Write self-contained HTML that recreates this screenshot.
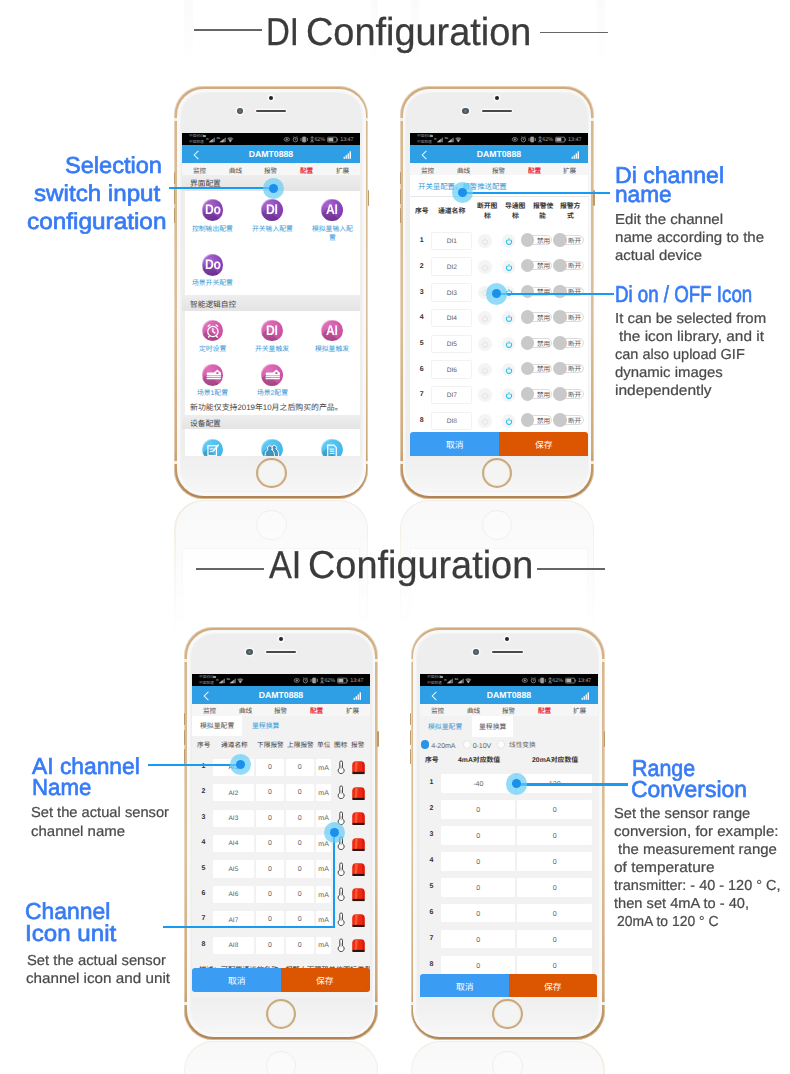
<!DOCTYPE html>
<html lang="en"><head><meta charset="utf-8"><title>DI / AI Configuration</title>
<style>
*{margin:0;padding:0;box-sizing:border-box}
html,body{width:790px;height:1074px;overflow:hidden;background:#fff}
body{font-family:"Liberation Sans",sans-serif;position:relative;text-rendering:geometricPrecision}
#page{position:absolute;left:0;top:0;width:790px;height:1074px;overflow:hidden;background:#fff}
.abs{position:absolute}
.cj{position:absolute;fill:currentColor;stroke:none;overflow:visible;display:block;font-family:"Liberation Sans","Noto Sans CJK SC",sans-serif}
.cj text{font-size:100px}
.cb{font-weight:bold}
.t{position:absolute;white-space:nowrap;transform-origin:0 0;line-height:1}
.h1{color:#3b3b3b;font-size:39px;-webkit-text-stroke:.28px #3b3b3b}
.hl{position:absolute;height:1.7px;background:#666}
.bt{color:#377bf6;-webkit-text-stroke:.68px #377bf6}
.gt{color:#4a4a4a;-webkit-text-stroke:.22px #4a4a4a}
/* phone */
.phone{position:absolute;width:194px;height:412.6px;border-radius:29px;
 background:linear-gradient(to bottom,#cfab7d 0,#d8b98f 12%,#dcbf98 55%,#cfa97b 88%,#b88b58 97%,#b08350 100%);box-shadow:inset 0 0 0 .9px rgba(255,255,255,.42)}
.phone .rim{position:absolute;left:2.7px;top:2.3px;right:2.9px;bottom:2.8px;border-radius:26.5px;background:#f9f9f9}
.phone .face{position:absolute;left:6.4px;top:6.6px;right:6.4px;bottom:8px;border-radius:22.5px;background:linear-gradient(to bottom,#eee 0,#eee 90%,#f3f3f3 97%,#f7f7f7 100%);box-shadow:0 0 1.5px 1px #f2f2f2}
.phone .cam{position:absolute;left:62.3px;top:21.8px;width:6.4px;height:6.4px;border-radius:50%;background:radial-gradient(circle,#70838a 0,#4b585f 45%,#48545b 100%);box-shadow:0 0 0 1.6px #f9f9f9}
.phone .spk{position:absolute;left:81.6px;top:23.4px;width:30.4px;height:2.8px;border-radius:2px;background:#484848;box-shadow:0 0 0 1.4px #f8f8f8}
.phone .dot{position:absolute;left:94.7px;top:9.3px;width:4px;height:4px;border-radius:50%;background:#252525;box-shadow:0 0 0 1.7px #f9f9f9}
.phone .home{position:absolute;left:81.8px;top:371.5px;width:30.4px;height:30.4px;border-radius:50%;border:2px solid #cba97e;background:#f4f4f4;box-shadow:inset 0 0 1px .5px #eadfcd}
.phone .ant{position:absolute;width:3px;height:2.6px;background:#f3efe9}
.phone .btn{position:absolute;width:1.3px;background:#bd9a6e;border-radius:1px}
.screen{position:absolute;top:46.7px;width:178px;height:323px;overflow:hidden;background:#eee;font-size:7px;color:#555}
.screen *{position:absolute}
.sb{left:0;top:0;width:178px;height:11.9px;background:#000}
.hd{left:0;top:11.9px;width:178px;height:18.5px;background:#2e9fe5}
.hd b{left:0;width:178px;top:5.3px;text-align:center;color:#fff;font-size:8.7px;line-height:9px;letter-spacing:0}
.tabs{left:0;top:30.4px;width:178px;height:11.8px;background:#f6f6f6}
.sec{left:0;width:178px;background:linear-gradient(to bottom,#eee,#e4e4e4)}
.card{left:2.7px;width:175.3px;background:#fff}
.ic{border-radius:50%;width:21.8px;height:21.8px;overflow:hidden;box-shadow:inset .8px .8px .6px rgba(255,255,255,.38)}
.ic b{left:0;top:0;width:21.8px;height:21.8px;text-align:center;color:#fff;font-size:14px;line-height:21.8px;letter-spacing:-.2px;transform:scaleX(.87)}
.pur{background:radial-gradient(circle at 32% 28%,#a766cf 0%,#8c43b9 55%,#74309f 100%)}
.pnk{background:radial-gradient(circle at 32% 28%,#e070bb 0%,#d258a9 55%,#bb4593 100%)}
.blu{background:radial-gradient(circle at 32% 28%,#62cbf6 0%,#47bbee 60%,#37abe2 100%)}
.shd{left:6px;top:9px;width:30px;height:14px;background:rgba(0,0,0,.16);transform:rotate(45deg);transform-origin:0 0}
.box{background:#fff;border-radius:1.5px;text-align:center;color:#666}
.bx2{border:.7px solid #f2f2f2}
.num{font-weight:bold;color:#333;font-size:7px;line-height:8px;width:12px;text-align:center}
.btnb{background:#3a9cf2}
.btno{background:#dc5500}
.knob{width:13.6px;height:13.6px;border-radius:50%;background:#c9c9c9}
.pill{height:9.6px;border:.7px solid #dcdcdc;border-radius:5px;background:#fff}
.pw{width:13.6px;height:13.6px;border-radius:50%;background:#f4f4f4}
.refl{position:absolute;overflow:hidden}
.halo{position:absolute;width:21.2px;height:21.2px;border-radius:50%;background:rgba(100,205,246,.7)}
.halo i{position:absolute;left:6.1px;top:6.1px;width:9px;height:9px;border-radius:50%;background:#1a90ee}
.ln{position:absolute;background:#189bf2}
</style></head>
<body>
<div id="page">
<div class="abs" style="left:184.2px;top:0;width:194px;height:66px;background:linear-gradient(to bottom,rgba(247,247,247,.55),rgba(250,250,250,0))"></div><div class="abs" style="left:192.7px;top:0;width:178px;height:66px;background:#fff"></div><div class="abs" style="left:410.7px;top:0;width:194px;height:66px;background:linear-gradient(to bottom,rgba(247,247,247,.55),rgba(250,250,250,0))"></div><div class="abs" style="left:419.2px;top:0;width:178px;height:66px;background:#fff"></div>
<div class="refl" style="left:173.4px;top:499.5px;width:196px;height:140px;-webkit-mask-image:linear-gradient(to bottom,rgba(0,0,0,.9),rgba(0,0,0,.6) 35%,rgba(0,0,0,.25) 65%,rgba(0,0,0,.06) 88%,transparent);mask-image:linear-gradient(to bottom,rgba(0,0,0,.9),rgba(0,0,0,.6) 35%,rgba(0,0,0,.25) 65%,rgba(0,0,0,.06) 88%,transparent)"><div class="abs" style="left:1px;top:0;width:194px;height:412px;border-radius:29px;background:#f1e9de"></div><div class="abs" style="left:2.200px;top:1.200px;width:191.600px;height:412px;border-radius:28px;background:#f8f8f8"></div><div class="abs" style="left:82.800px;top:10.500px;width:30.400px;height:30.400px;border-radius:50%;border:1.500px solid #efe9e1;background:#fafafa"></div><div class="abs" style="left:8.6px;top:48.500px;width:178px;height:200px;border:1px solid #f0f0f0;background:#fefefe"></div></div>
<div class="refl" style="left:399.1px;top:499.5px;width:196px;height:140px;-webkit-mask-image:linear-gradient(to bottom,rgba(0,0,0,.9),rgba(0,0,0,.6) 35%,rgba(0,0,0,.25) 65%,rgba(0,0,0,.06) 88%,transparent);mask-image:linear-gradient(to bottom,rgba(0,0,0,.9),rgba(0,0,0,.6) 35%,rgba(0,0,0,.25) 65%,rgba(0,0,0,.06) 88%,transparent)"><div class="abs" style="left:1px;top:0;width:194px;height:412px;border-radius:29px;background:#f1e9de"></div><div class="abs" style="left:2.200px;top:1.200px;width:191.600px;height:412px;border-radius:28px;background:#f8f8f8"></div><div class="abs" style="left:82.800px;top:10.500px;width:30.400px;height:30.400px;border-radius:50%;border:1.500px solid #efe9e1;background:#fafafa"></div><div class="abs" style="left:10.8px;top:48.500px;width:178px;height:200px;border:1px solid #f0f0f0;background:#fefefe"></div></div>
<div class="refl" style="left:183.2px;top:1040.5px;width:196px;height:140px;-webkit-mask-image:linear-gradient(to bottom,rgba(0,0,0,.9),rgba(0,0,0,.6) 35%,rgba(0,0,0,.25) 65%,rgba(0,0,0,.06) 88%,transparent);mask-image:linear-gradient(to bottom,rgba(0,0,0,.9),rgba(0,0,0,.6) 35%,rgba(0,0,0,.25) 65%,rgba(0,0,0,.06) 88%,transparent)"><div class="abs" style="left:1px;top:0;width:194px;height:412px;border-radius:29px;background:#f1e9de"></div><div class="abs" style="left:2.200px;top:1.200px;width:191.600px;height:412px;border-radius:28px;background:#f8f8f8"></div><div class="abs" style="left:82.800px;top:10.500px;width:30.400px;height:30.400px;border-radius:50%;border:1.500px solid #efe9e1;background:#fafafa"></div><div class="abs" style="left:8.8px;top:48.500px;width:178px;height:200px;border:1px solid #f0f0f0;background:#fefefe"></div></div>
<div class="refl" style="left:409.7px;top:1040.5px;width:196px;height:140px;-webkit-mask-image:linear-gradient(to bottom,rgba(0,0,0,.9),rgba(0,0,0,.6) 35%,rgba(0,0,0,.25) 65%,rgba(0,0,0,.06) 88%,transparent);mask-image:linear-gradient(to bottom,rgba(0,0,0,.9),rgba(0,0,0,.6) 35%,rgba(0,0,0,.25) 65%,rgba(0,0,0,.06) 88%,transparent)"><div class="abs" style="left:1px;top:0;width:194px;height:412px;border-radius:29px;background:#f1e9de"></div><div class="abs" style="left:2.200px;top:1.200px;width:191.600px;height:412px;border-radius:28px;background:#f8f8f8"></div><div class="abs" style="left:82.800px;top:10.500px;width:30.400px;height:30.400px;border-radius:50%;border:1.500px solid #efe9e1;background:#fafafa"></div><div class="abs" style="left:10.2px;top:48.500px;width:178px;height:200px;border:1px solid #f0f0f0;background:#fefefe"></div></div>
<div class="hl" style="left:194.1px;top:29.3px;width:67.8px"></div>
<div class="hl" style="left:540px;top:31.6px;width:68px"></div>
<div class="hl" style="left:196.1px;top:568.2px;width:67.6px"></div>
<div class="hl" style="left:537.1px;top:568.2px;width:67.7px"></div>
<div class="t h1" style="left:266.47px;top:13px;font-size:39px;transform:scaleX(0.8459)">DI</div>
<div class="t h1" style="left:305.76px;top:13px;font-size:39px;transform:scaleX(0.9713)">Configuration</div>
<div class="t h1" style="left:269.31px;top:546px;font-size:39px;transform:scaleX(0.8781)">AI</div>
<div class="t h1" style="left:307.76px;top:546px;font-size:39px;transform:scaleX(0.9708)">Configuration</div>
<div class="t bt" style="left:64.71px;top:154px;font-size:23px;transform:scaleX(1.0245)">Selection</div>
<div class="t bt" style="left:34.21px;top:182px;font-size:23px;transform:scaleX(1.0509)">switch input</div>
<div class="t bt" style="left:27.25px;top:210px;font-size:23px;transform:scaleX(1.0589)">configuration</div>
<div class="t bt" style="left:614.79px;top:164px;font-size:23px;transform:scaleX(1.0036)">Di channel</div>
<div class="t bt" style="left:615.17px;top:183px;font-size:23px;transform:scaleX(0.9862)">name</div>
<div class="t bt" style="left:614.85px;top:283px;font-size:23px;transform:scaleX(0.8131)">Di on / OFF Icon</div>
<div class="t bt" style="left:31.74px;top:755px;font-size:23px;transform:scaleX(0.9918)">AI channel</div>
<div class="t bt" style="left:31.56px;top:776px;font-size:23px;transform:scaleX(0.9656)">Name</div>
<div class="t bt" style="left:25.12px;top:900px;font-size:23px;transform:scaleX(0.9959)">Channel</div>
<div class="t bt" style="left:25.35px;top:922px;font-size:23px;transform:scaleX(1.0493)">Icon unit</div>
<div class="t bt" style="left:631.72px;top:757px;font-size:23px;transform:scaleX(0.9317)">Range</div>
<div class="t bt" style="left:631.32px;top:778px;font-size:23px;transform:scaleX(0.9970)">Conversion</div>
<div class="t gt" style="left:615.08px;top:213px;font-size:14.5px;transform:scaleX(1.0395)">Edit the channel</div>
<div class="t gt" style="left:615.32px;top:231px;font-size:14.5px;transform:scaleX(1.0393)">name according to the</div>
<div class="t gt" style="left:614.89px;top:249px;font-size:14.5px;transform:scaleX(1.0273)">actual device</div>
<div class="t gt" style="left:614.94px;top:312px;font-size:14.5px;transform:scaleX(1.0302)">It can be selected from</div>
<div class="t gt" style="left:619.19px;top:330px;font-size:14.5px;transform:scaleX(1.0596)">the icon library, and it</div>
<div class="t gt" style="left:615.00px;top:348px;font-size:14.5px;transform:scaleX(0.9998)">can also upload GIF</div>
<div class="t gt" style="left:614.99px;top:366px;font-size:14.5px;transform:scaleX(1.0282)">dynamic images</div>
<div class="t gt" style="left:615.28px;top:384px;font-size:14.5px;transform:scaleX(1.0699)">independently</div>
<div class="t gt" style="left:31.15px;top:806px;font-size:14.5px;transform:scaleX(1.0127)">Set the actual sensor</div>
<div class="t gt" style="left:30.58px;top:825px;font-size:14.5px;transform:scaleX(1.0326)">channel name</div>
<div class="t gt" style="left:26.95px;top:954px;font-size:14.5px;transform:scaleX(1.0194)">Set the actual sensor</div>
<div class="t gt" style="left:26.37px;top:972px;font-size:14.5px;transform:scaleX(1.0508)">channel icon and unit</div>
<div class="t gt" style="left:614.15px;top:807px;font-size:14.5px;transform:scaleX(1.0123)">Set the sensor range</div>
<div class="t gt" style="left:613.98px;top:825px;font-size:14.5px;transform:scaleX(1.0412)">conversion, for example:</div>
<div class="t gt" style="left:617.59px;top:843px;font-size:14.5px;transform:scaleX(1.0318)">the measurement range</div>
<div class="t gt" style="left:613.97px;top:861px;font-size:14.5px;transform:scaleX(1.0656)">of temperature</div>
<div class="t gt" style="left:614.10px;top:879px;font-size:14.5px;transform:scaleX(0.9971)">transmitter: - 40 - 120 ° C,</div>
<div class="t gt" style="left:614.10px;top:897px;font-size:14.5px;transform:scaleX(1.0096)">then set 4mA to - 40,</div>
<div class="t gt" style="left:617.12px;top:915px;font-size:14.5px;transform:scaleX(0.9599)">20mA to 120 ° C</div>
<div class="phone" style="left:174.4px;top:86.3px"><div class="btn" style="left:-.5px;top:86px;height:12px"></div><div class="btn" style="left:-.5px;top:103px;height:15px"></div><div class="btn" style="left:-.5px;top:122px;height:15px"></div><div class="btn" style="right:-.5px;top:104px;height:16px"></div><div class="rim"></div><div class="face"></div><div class="ant" style="left:0;top:32px"></div><div class="ant" style="right:0;top:32px"></div><div class="ant" style="left:0;top:375px"></div><div class="ant" style="right:0;top:375px"></div><div class="dot"></div><div class="cam"></div><div class="spk"></div><div class="screen" style="left:7.6px"><div class="sb" style="left:0.00px;top:0.00px;width:178.00px;height:11.90px;"></div><svg class="cj" role="img" aria-label="中国移动" style="left:7.30px;top:1.35px;width:14.80px;height:3.70px;color:#8e8e8e;" viewBox="0 -88 400 100"><text x="0" y="0">中国移动</text></svg><svg class="cj" role="img" aria-label="中国联通" style="left:7.30px;top:6.75px;width:14.80px;height:3.70px;color:#8e8e8e;" viewBox="0 -88 400 100"><text x="0" y="0">中国联通</text></svg><div style="left:20.60px;top:1.60px;width:3.00px;height:2.60px;border:.5px solid #999;border-radius:.5px"></div><svg style="left:24px;top:2px;width:30px;height:8px" viewBox="0 0 30 8"><text x="0.3" y="4.6" font-size="3" fill="#aaa" font-family="Liberation Sans" font-weight="bold">H</text><path d="M2.8 7.2 L9 7.2 L9 2.2 Z" fill="#6a6a6a"/><path d="M2.8 7.2 L6.6 7.2 L6.6 4.1 Z" fill="#b4b4b4"/><text x="10.4" y="4.4" font-size="2.8" fill="#aaa" font-family="Liberation Sans" font-weight="bold">4G</text><path d="M13.6 7.2 L19.9 7.2 L19.9 2.2 Z" fill="#6a6a6a"/><path d="M13.6 7.2 L17.6 7.2 L17.6 4 Z" fill="#b4b4b4"/><path d="M21.2 3.6 Q24.3 0.9 27.4 3.6 L24.3 7.3 Z" fill="#6a6a6a"/><path d="M22.9 5.4 Q24.3 4.4 25.7 5.4 L24.3 7.3 Z" fill="#b4b4b4"/></svg><svg style="left:101px;top:2.6px;width:60px;height:7px" viewBox="0 0 60 7" fill="none" stroke="#9a9a9a" stroke-width=".75"><ellipse cx="3.8" cy="3.4" rx="2.6" ry="1.9"/><circle cx="3.8" cy="3.4" r=".7" fill="#9a9a9a"/><circle cx="12.4" cy="3.7" r="2.2"/><path d="M12.4 2.4v1.4h1M10.2 1.2l1-.8M14.6 1.2l-1-.8"/><rect x="19.6" y="1" width="3.2" height="5" rx=".5" fill="#9a9a9a"/><path d="M18 2v3M24.4 2v3"/><path d="M27.2 5.8h3.8M29.1 .8v4.2M27.4 2l1.7-1.2 1.7 1.2M27.8 3.8l1.3 1 1.3-1"/><rect x="44.6" y="1.2" width="9.2" height="4.8" rx=".8"/><rect x="45.3" y="1.9" width="5" height="3.4" fill="#b0b0b0" stroke="none"/><path d="M54.6 2.6v2"/></svg><div style="left:132.4px;top:4.1px;font-size:5.5px;line-height:7px;color:#a6a6a6;letter-spacing:-.1px">62%</div><div style="left:158.2px;top:4.1px;font-size:5.5px;line-height:7px;color:#a6a6a6;letter-spacing:-.1px">13:47</div><div class="hd" style="left:0.00px;top:11.90px;width:178.00px;height:18.50px;"><b>DAMT0888</b></div><svg style="left:11px;top:17.5px;width:7px;height:10px" viewBox="0 0 7 10" fill="none" stroke="#eef7fd" stroke-width="1.05"><path d="M5.4 .8 L1.2 5 L5.4 9.2"/></svg><svg style="left:161px;top:18.4px;width:9px;height:8px" viewBox="0 0 9 8" fill="#fff"><rect x=".6" y="5.8" width="1.3" height="2"/><rect x="2.6" y="4.2" width="1.3" height="3.6"/><rect x="4.6" y="2.4" width="1.3" height="5.4"/><rect x="6.6" y=".4" width="1.4" height="7.4"/></svg><div class="tabs" style="left:0.00px;top:30.40px;width:178.00px;height:11.80px;"></div><svg class="cj" role="img" aria-label="监控" style="left:11.20px;top:34.00px;width:13.20px;height:6.60px;color:#4a4a4a;" viewBox="0 -88 200 100"><text x="0" y="0">监控</text></svg><svg class="cj" role="img" aria-label="曲线" style="left:46.80px;top:34.00px;width:13.20px;height:6.60px;color:#4a4a4a;" viewBox="0 -88 200 100"><text x="0" y="0">曲线</text></svg><svg class="cj" role="img" aria-label="报警" style="left:82.40px;top:34.00px;width:13.20px;height:6.60px;color:#4a4a4a;" viewBox="0 -88 200 100"><text x="0" y="0">报警</text></svg><svg class="cj cb" role="img" aria-label="配置" style="left:118.00px;top:34.00px;width:13.20px;height:6.60px;color:#ec1c24;" viewBox="0 -88 200 100"><text x="0" y="0">配置</text></svg><svg class="cj" role="img" aria-label="扩展" style="left:153.60px;top:34.00px;width:13.20px;height:6.60px;color:#4a4a4a;" viewBox="0 -88 200 100"><text x="0" y="0">扩展</text></svg><div class="sec" style="left:0.00px;top:42.20px;width:178.00px;height:16.00px;"></div><svg class="cj" role="img" aria-label="界面配置" style="left:7.80px;top:46.35px;width:30.80px;height:7.70px;color:#454545;" viewBox="0 -88 400 100"><text x="0" y="0">界面配置</text></svg><div class="card" style="left:2.70px;top:58.20px;width:175.30px;height:104.10px;"></div><div class="ic pur" style="left:19.70px;top:66.20px"><div class="shd"></div><b>Do</b></div><div class="ic pur" style="left:79.30px;top:66.20px"><div class="shd"></div><b>DI</b></div><div class="ic pur" style="left:139.10px;top:66.20px"><div class="shd"></div><b>AI</b></div><svg class="cj" role="img" aria-label="控制输出配置" style="left:10.20px;top:92.00px;width:40.80px;height:6.80px;color:#3d9bd8;" viewBox="0 -88 600 100"><text x="0" y="0">控制输出配置</text></svg><svg class="cj" role="img" aria-label="开关输入配置" style="left:69.80px;top:92.00px;width:40.80px;height:6.80px;color:#3d9bd8;" viewBox="0 -88 600 100"><text x="0" y="0">开关输入配置</text></svg><svg class="cj" role="img" aria-label="模拟量输入配" style="left:129.60px;top:92.00px;width:40.80px;height:6.80px;color:#3d9bd8;" viewBox="0 -88 600 100"><text x="0" y="0">模拟量输入配</text></svg><svg class="cj" role="img" aria-label="置" style="left:146.60px;top:101.10px;width:6.80px;height:6.80px;color:#3d9bd8;" viewBox="0 -88 100 100"><text x="0" y="0">置</text></svg><div class="ic pur" style="left:19.70px;top:121.10px"><div class="shd"></div><b>Do</b></div><svg class="cj" role="img" aria-label="场景开关配置" style="left:10.20px;top:146.20px;width:40.80px;height:6.80px;color:#3d9bd8;" viewBox="0 -88 600 100"><text x="0" y="0">场景开关配置</text></svg><div class="sec" style="left:0.00px;top:162.30px;width:178.00px;height:15.40px;"></div><svg class="cj" role="img" aria-label="智能逻辑自控" style="left:7.80px;top:166.55px;width:46.20px;height:7.70px;color:#454545;" viewBox="0 -88 600 100"><text x="0" y="0">智能逻辑自控</text></svg><div class="card" style="left:2.70px;top:177.70px;width:175.30px;height:104.50px;"></div><div class="ic pnk" style="left:19.70px;top:186.60px"><div class="shd"></div><svg style="left:0;top:0;width:21.8px;height:21.8px" viewBox="0 0 22 22" fill="none" stroke="#fff" stroke-width="1.3" stroke-linecap="round"><circle cx="11" cy="11.6" r="5.2"/><path d="M11 8.6v3.2l2 1.2M6.2 6.4l1.6-1.5M15.8 6.4l-1.6-1.5M7.6 16l-1 1.4M14.4 16l1 1.4"/></svg></div><div class="ic pnk" style="left:79.30px;top:186.60px"><div class="shd"></div><b>DI</b></div><div class="ic pnk" style="left:139.10px;top:186.60px"><div class="shd"></div><b>AI</b></div><svg class="cj" role="img" aria-label="定时设置" style="left:17.00px;top:212.00px;width:27.20px;height:6.80px;color:#3d9bd8;" viewBox="0 -88 400 100"><text x="0" y="0">定时设置</text></svg><svg class="cj" role="img" aria-label="开关量触发" style="left:73.20px;top:212.00px;width:34.00px;height:6.80px;color:#3d9bd8;" viewBox="0 -88 500 100"><text x="0" y="0">开关量触发</text></svg><svg class="cj" role="img" aria-label="模拟量触发" style="left:133.00px;top:212.00px;width:34.00px;height:6.80px;color:#3d9bd8;" viewBox="0 -88 500 100"><text x="0" y="0">模拟量触发</text></svg><div class="ic pnk" style="left:19.70px;top:230.80px"><div class="shd"></div><svg style="left:0;top:0;width:21.8px;height:21.8px" viewBox="0 0 22 22" fill="#fff" stroke="none"><path d="M4.800 11.500V9.700q0-1.100 1.100-1.100h6.200l3.400-3.100 3.600 3.300v2.700z"/><rect x="14.500" y="8.300" width="2.100" height="1.800" fill="#c9509f"/><rect x="4.600" y="12.200" width="14.500" height="1"/><rect x="4.600" y="13.800" width="14.500" height="1.500" rx=".4"/></svg></div><div class="ic pnk" style="left:79.30px;top:230.80px"><div class="shd"></div><svg style="left:0;top:0;width:21.8px;height:21.8px" viewBox="0 0 22 22" fill="#fff" stroke="none"><path d="M4.800 11.500V9.700q0-1.100 1.100-1.100h6.200l3.400-3.100 3.600 3.300v2.700z"/><rect x="14.500" y="8.300" width="2.100" height="1.800" fill="#c9509f"/><rect x="4.600" y="12.200" width="14.500" height="1"/><rect x="4.600" y="13.800" width="14.500" height="1.500" rx=".4"/></svg></div><svg class="cj" role="img" aria-label="场景1配置" style="left:15.11px;top:255.90px;width:30.97px;height:6.80px;color:#3d9bd8;" viewBox="0 -88 455.5 100"><text x="0" y="0" textLength="455.5">场景1配置</text></svg><svg class="cj" role="img" aria-label="场景2配置" style="left:74.71px;top:255.90px;width:30.97px;height:6.80px;color:#3d9bd8;" viewBox="0 -88 455.5 100"><text x="0" y="0" textLength="455.5">场景2配置</text></svg><svg class="cj" role="img" aria-label="新功能仅支持2019年10月之后购买的产品。" style="left:7.80px;top:269.95px;width:152.71px;height:7.90px;color:#454545;" viewBox="0 -88 1933 100"><text x="0" y="0" textLength="1933">新功能仅支持2019年10月之后购买的产品。</text></svg><div class="sec" style="left:0.00px;top:282.20px;width:178.00px;height:14.30px;"></div><svg class="cj" role="img" aria-label="设备配置" style="left:7.80px;top:285.75px;width:30.80px;height:7.70px;color:#454545;" viewBox="0 -88 400 100"><text x="0" y="0">设备配置</text></svg><div class="card" style="left:2.70px;top:296.50px;width:175.30px;height:27.00px;"></div><div class="ic blu" style="left:19.70px;top:305.60px"><div class="shd"></div><svg style="left:0;top:0;width:21.8px;height:21.8px" viewBox="0 0 22 22" fill="none" stroke="#fff" stroke-width="1.2"><rect x="6" y="6.800" width="8.600" height="9.800"/><path d="M7.800 10h4M7.800 12.800h3.200" stroke-width="1"/><path d="M11.600 11.800l4.800-5.600" stroke-width="1.500" stroke-linecap="round"/></svg></div><div class="ic blu" style="left:79.30px;top:305.60px"><div class="shd"></div><svg style="left:0;top:0;width:21.8px;height:21.8px" viewBox="0 0 22 22" fill="#3f93bd" stroke="#fff" stroke-width=".95" stroke-linejoin="round"><path d="M11.800 10.100a2.200 2.200 0 1 1 3.200 0c1.800.8 2.600 2.500 2.600 5v4h-7.600z"/><path d="M7.100 10.900a2.400 2.400 0 1 1 3.600 0c2 .9 2.900 2.800 2.900 5.500v3h-9.400v-3c0-2.700.9-4.600 2.900-5.500z"/></svg></div><div class="ic blu" style="left:139.10px;top:305.60px"><div class="shd"></div><svg style="left:0;top:0;width:21.8px;height:21.8px" viewBox="0 0 22 22" fill="none" stroke="#fff" stroke-width="1.200"><path d="M6.800 6.200h6.200l2.400 2.400v9.400h-8.600z"/><path d="M8.600 10.200h4.800M8.600 12.400h4.800M8.600 14.600h4.800" stroke-width="1"/></svg></div></div><div class="home"></div></div>
<div class="phone" style="left:400.1px;top:86.3px"><div class="btn" style="left:-.5px;top:86px;height:12px"></div><div class="btn" style="left:-.5px;top:103px;height:15px"></div><div class="btn" style="left:-.5px;top:122px;height:15px"></div><div class="btn" style="right:-.5px;top:104px;height:16px"></div><div class="rim"></div><div class="face"></div><div class="ant" style="left:0;top:32px"></div><div class="ant" style="right:0;top:32px"></div><div class="ant" style="left:0;top:375px"></div><div class="ant" style="right:0;top:375px"></div><div class="dot"></div><div class="cam"></div><div class="spk"></div><div class="screen" style="left:9.8px"><div class="sb" style="left:0.00px;top:0.00px;width:178.00px;height:11.90px;"></div><svg class="cj" role="img" aria-label="中国移动" style="left:7.30px;top:1.35px;width:14.80px;height:3.70px;color:#8e8e8e;" viewBox="0 -88 400 100"><text x="0" y="0">中国移动</text></svg><svg class="cj" role="img" aria-label="中国联通" style="left:7.30px;top:6.75px;width:14.80px;height:3.70px;color:#8e8e8e;" viewBox="0 -88 400 100"><text x="0" y="0">中国联通</text></svg><div style="left:20.60px;top:1.60px;width:3.00px;height:2.60px;border:.5px solid #999;border-radius:.5px"></div><svg style="left:24px;top:2px;width:30px;height:8px" viewBox="0 0 30 8"><text x="0.3" y="4.6" font-size="3" fill="#aaa" font-family="Liberation Sans" font-weight="bold">H</text><path d="M2.8 7.2 L9 7.2 L9 2.2 Z" fill="#6a6a6a"/><path d="M2.8 7.2 L6.6 7.2 L6.6 4.1 Z" fill="#b4b4b4"/><text x="10.4" y="4.4" font-size="2.8" fill="#aaa" font-family="Liberation Sans" font-weight="bold">4G</text><path d="M13.6 7.2 L19.9 7.2 L19.9 2.2 Z" fill="#6a6a6a"/><path d="M13.6 7.2 L17.6 7.2 L17.6 4 Z" fill="#b4b4b4"/><path d="M21.2 3.6 Q24.3 0.9 27.4 3.6 L24.3 7.3 Z" fill="#6a6a6a"/><path d="M22.9 5.4 Q24.3 4.4 25.7 5.4 L24.3 7.3 Z" fill="#b4b4b4"/></svg><svg style="left:101px;top:2.6px;width:60px;height:7px" viewBox="0 0 60 7" fill="none" stroke="#9a9a9a" stroke-width=".75"><ellipse cx="3.8" cy="3.4" rx="2.6" ry="1.9"/><circle cx="3.8" cy="3.4" r=".7" fill="#9a9a9a"/><circle cx="12.4" cy="3.7" r="2.2"/><path d="M12.4 2.4v1.4h1M10.2 1.2l1-.8M14.6 1.2l-1-.8"/><rect x="19.6" y="1" width="3.2" height="5" rx=".5" fill="#9a9a9a"/><path d="M18 2v3M24.4 2v3"/><path d="M27.2 5.8h3.8M29.1 .8v4.2M27.4 2l1.7-1.2 1.7 1.2M27.8 3.8l1.3 1 1.3-1"/><rect x="44.6" y="1.2" width="9.2" height="4.8" rx=".8"/><rect x="45.3" y="1.9" width="5" height="3.4" fill="#b0b0b0" stroke="none"/><path d="M54.6 2.6v2"/></svg><div style="left:132.4px;top:4.1px;font-size:5.5px;line-height:7px;color:#a6a6a6;letter-spacing:-.1px">62%</div><div style="left:158.2px;top:4.1px;font-size:5.5px;line-height:7px;color:#a6a6a6;letter-spacing:-.1px">13:47</div><div class="hd" style="left:0.00px;top:11.90px;width:178.00px;height:18.50px;"><b>DAMT0888</b></div><svg style="left:11px;top:17.5px;width:7px;height:10px" viewBox="0 0 7 10" fill="none" stroke="#eef7fd" stroke-width="1.05"><path d="M5.4 .8 L1.2 5 L5.4 9.2"/></svg><svg style="left:161px;top:18.4px;width:9px;height:8px" viewBox="0 0 9 8" fill="#fff"><rect x=".6" y="5.8" width="1.3" height="2"/><rect x="2.6" y="4.2" width="1.3" height="3.6"/><rect x="4.6" y="2.4" width="1.3" height="5.4"/><rect x="6.6" y=".4" width="1.4" height="7.4"/></svg><div class="tabs" style="left:0.00px;top:30.40px;width:178.00px;height:11.80px;"></div><svg class="cj" role="img" aria-label="监控" style="left:11.20px;top:34.00px;width:13.20px;height:6.60px;color:#4a4a4a;" viewBox="0 -88 200 100"><text x="0" y="0">监控</text></svg><svg class="cj" role="img" aria-label="曲线" style="left:46.80px;top:34.00px;width:13.20px;height:6.60px;color:#4a4a4a;" viewBox="0 -88 200 100"><text x="0" y="0">曲线</text></svg><svg class="cj" role="img" aria-label="报警" style="left:82.40px;top:34.00px;width:13.20px;height:6.60px;color:#4a4a4a;" viewBox="0 -88 200 100"><text x="0" y="0">报警</text></svg><svg class="cj cb" role="img" aria-label="配置" style="left:118.00px;top:34.00px;width:13.20px;height:6.60px;color:#ec1c24;" viewBox="0 -88 200 100"><text x="0" y="0">配置</text></svg><svg class="cj" role="img" aria-label="扩展" style="left:153.60px;top:34.00px;width:13.20px;height:6.60px;color:#4a4a4a;" viewBox="0 -88 200 100"><text x="0" y="0">扩展</text></svg><div style="left:0.00px;top:42.20px;width:178.00px;height:281.00px;background:#fff"></div><svg class="cj" role="img" aria-label="开关量配置、报警推送配置" style="left:8.30px;top:48.70px;width:88.80px;height:7.40px;color:#2e9fe0;" viewBox="0 -88 1200 100"><text x="0" y="0">开关量配置、报警推送配置</text></svg><div style="left:0.00px;top:62.80px;width:178.00px;height:0.80px;background:#e6e6e6"></div><svg class="cj cb" role="img" aria-label="序号" style="left:4.70px;top:73.70px;width:13.60px;height:6.80px;color:#333;" viewBox="0 -88 200 100"><text x="0" y="0">序号</text></svg><svg class="cj cb" role="img" aria-label="通道名称" style="left:28.40px;top:73.70px;width:27.20px;height:6.80px;color:#333;" viewBox="0 -88 400 100"><text x="0" y="0">通道名称</text></svg><svg class="cj cb" role="img" aria-label="断开图" style="left:67.40px;top:68.80px;width:20.40px;height:6.80px;color:#333;" viewBox="0 -88 300 100"><text x="0" y="0">断开图</text></svg><svg class="cj cb" role="img" aria-label="标" style="left:74.20px;top:78.60px;width:6.80px;height:6.80px;color:#333;" viewBox="0 -88 100 100"><text x="0" y="0">标</text></svg><svg class="cj cb" role="img" aria-label="导通图" style="left:95.00px;top:68.80px;width:20.40px;height:6.80px;color:#333;" viewBox="0 -88 300 100"><text x="0" y="0">导通图</text></svg><svg class="cj cb" role="img" aria-label="标" style="left:101.80px;top:78.60px;width:6.80px;height:6.80px;color:#333;" viewBox="0 -88 100 100"><text x="0" y="0">标</text></svg><svg class="cj cb" role="img" aria-label="报警使" style="left:122.70px;top:68.80px;width:20.40px;height:6.80px;color:#333;" viewBox="0 -88 300 100"><text x="0" y="0">报警使</text></svg><svg class="cj cb" role="img" aria-label="能" style="left:129.50px;top:78.60px;width:6.80px;height:6.80px;color:#333;" viewBox="0 -88 100 100"><text x="0" y="0">能</text></svg><svg class="cj cb" role="img" aria-label="报警方" style="left:150.40px;top:68.80px;width:20.40px;height:6.80px;color:#333;" viewBox="0 -88 300 100"><text x="0" y="0">报警方</text></svg><svg class="cj cb" role="img" aria-label="式" style="left:157.20px;top:78.60px;width:6.80px;height:6.80px;color:#333;" viewBox="0 -88 100 100"><text x="0" y="0">式</text></svg><div class="num" style="left:5.9px;top:104.30px">1</div><div class="box bx2" style="left:21.60px;top:98.80px;width:40.80px;height:18.50px;"></div><div style="left:22.00px;top:105.14px;width:40.00px;height:7.92px;line-height:7.92px;font-size:6.60px;text-align:center;color:#5a5a5a;">DI1</div><div class="pw" style="left:68.50px;top:101.30px;width:13.60px;height:13.60px;"></div><svg style="left:71.30px;top:104.10px;width:8px;height:8px" viewBox="0 0 8 8" fill="none" stroke="#dedede" stroke-width=".9" stroke-linecap="butt"><path d="M2.400 2.700A2.600 2.600 0 1 0 5.600 2.700M4 1.200v2.600"/></svg><div class="pw" style="left:92.00px;top:101.30px;width:13.60px;height:13.60px;"></div><svg style="left:94.80px;top:104.10px;width:8px;height:8px" viewBox="0 0 8 8" fill="none" stroke="#25c2ee" stroke-width="1.1" stroke-linecap="butt"><path d="M2.400 2.700A2.600 2.600 0 1 0 5.600 2.700M4 1.200v2.600"/></svg><div class="pill" style="left:117.80px;top:102.20px;width:24.30px;height:9.60px;"></div><div class="knob" style="left:111.00px;top:100.20px;width:13.60px;height:13.60px;"></div><svg class="cj" role="img" aria-label="禁用" style="left:126.80px;top:103.80px;width:13.20px;height:6.60px;color:#555;" viewBox="0 -88 200 100"><text x="0" y="0">禁用</text></svg><div class="pill" style="left:150.20px;top:102.20px;width:23.80px;height:9.60px;"></div><div class="knob" style="left:143.40px;top:100.20px;width:13.60px;height:13.60px;"></div><svg class="cj" role="img" aria-label="断开" style="left:158.40px;top:103.80px;width:13.20px;height:6.60px;color:#555;" viewBox="0 -88 200 100"><text x="0" y="0">断开</text></svg><div class="num" style="left:5.9px;top:130.00px">2</div><div class="box bx2" style="left:21.60px;top:124.50px;width:40.80px;height:18.50px;"></div><div style="left:22.00px;top:130.84px;width:40.00px;height:7.92px;line-height:7.92px;font-size:6.60px;text-align:center;color:#5a5a5a;">DI2</div><div class="pw" style="left:68.50px;top:127.00px;width:13.60px;height:13.60px;"></div><svg style="left:71.30px;top:129.80px;width:8px;height:8px" viewBox="0 0 8 8" fill="none" stroke="#dedede" stroke-width=".9" stroke-linecap="butt"><path d="M2.400 2.700A2.600 2.600 0 1 0 5.600 2.700M4 1.200v2.600"/></svg><div class="pw" style="left:92.00px;top:127.00px;width:13.60px;height:13.60px;"></div><svg style="left:94.80px;top:129.80px;width:8px;height:8px" viewBox="0 0 8 8" fill="none" stroke="#25c2ee" stroke-width="1.1" stroke-linecap="butt"><path d="M2.400 2.700A2.600 2.600 0 1 0 5.600 2.700M4 1.200v2.600"/></svg><div class="pill" style="left:117.80px;top:127.90px;width:24.30px;height:9.60px;"></div><div class="knob" style="left:111.00px;top:125.90px;width:13.60px;height:13.60px;"></div><svg class="cj" role="img" aria-label="禁用" style="left:126.80px;top:129.50px;width:13.20px;height:6.60px;color:#555;" viewBox="0 -88 200 100"><text x="0" y="0">禁用</text></svg><div class="pill" style="left:150.20px;top:127.90px;width:23.80px;height:9.60px;"></div><div class="knob" style="left:143.40px;top:125.90px;width:13.60px;height:13.60px;"></div><svg class="cj" role="img" aria-label="断开" style="left:158.40px;top:129.50px;width:13.20px;height:6.60px;color:#555;" viewBox="0 -88 200 100"><text x="0" y="0">断开</text></svg><div class="num" style="left:5.9px;top:155.70px">3</div><div class="box bx2" style="left:21.60px;top:150.20px;width:40.80px;height:18.50px;"></div><div style="left:22.00px;top:156.54px;width:40.00px;height:7.92px;line-height:7.92px;font-size:6.60px;text-align:center;color:#5a5a5a;">DI3</div><div class="pw" style="left:68.50px;top:152.70px;width:13.60px;height:13.60px;"></div><svg style="left:71.30px;top:155.50px;width:8px;height:8px" viewBox="0 0 8 8" fill="none" stroke="#dedede" stroke-width=".9" stroke-linecap="butt"><path d="M2.400 2.700A2.600 2.600 0 1 0 5.600 2.700M4 1.200v2.600"/></svg><div class="pw" style="left:92.00px;top:152.70px;width:13.60px;height:13.60px;"></div><svg style="left:94.80px;top:155.50px;width:8px;height:8px" viewBox="0 0 8 8" fill="none" stroke="#25c2ee" stroke-width="1.1" stroke-linecap="butt"><path d="M2.400 2.700A2.600 2.600 0 1 0 5.600 2.700M4 1.200v2.600"/></svg><div class="pill" style="left:117.80px;top:153.60px;width:24.30px;height:9.60px;"></div><div class="knob" style="left:111.00px;top:151.60px;width:13.60px;height:13.60px;"></div><svg class="cj" role="img" aria-label="禁用" style="left:126.80px;top:155.20px;width:13.20px;height:6.60px;color:#555;" viewBox="0 -88 200 100"><text x="0" y="0">禁用</text></svg><div class="pill" style="left:150.20px;top:153.60px;width:23.80px;height:9.60px;"></div><div class="knob" style="left:143.40px;top:151.60px;width:13.60px;height:13.60px;"></div><svg class="cj" role="img" aria-label="断开" style="left:158.40px;top:155.20px;width:13.20px;height:6.60px;color:#555;" viewBox="0 -88 200 100"><text x="0" y="0">断开</text></svg><div class="num" style="left:5.9px;top:181.40px">4</div><div class="box bx2" style="left:21.60px;top:175.90px;width:40.80px;height:18.50px;"></div><div style="left:22.00px;top:182.24px;width:40.00px;height:7.92px;line-height:7.92px;font-size:6.60px;text-align:center;color:#5a5a5a;">DI4</div><div class="pw" style="left:68.50px;top:178.40px;width:13.60px;height:13.60px;"></div><svg style="left:71.30px;top:181.20px;width:8px;height:8px" viewBox="0 0 8 8" fill="none" stroke="#dedede" stroke-width=".9" stroke-linecap="butt"><path d="M2.400 2.700A2.600 2.600 0 1 0 5.600 2.700M4 1.200v2.600"/></svg><div class="pw" style="left:92.00px;top:178.40px;width:13.60px;height:13.60px;"></div><svg style="left:94.80px;top:181.20px;width:8px;height:8px" viewBox="0 0 8 8" fill="none" stroke="#25c2ee" stroke-width="1.1" stroke-linecap="butt"><path d="M2.400 2.700A2.600 2.600 0 1 0 5.600 2.700M4 1.200v2.600"/></svg><div class="pill" style="left:117.80px;top:179.30px;width:24.30px;height:9.60px;"></div><div class="knob" style="left:111.00px;top:177.30px;width:13.60px;height:13.60px;"></div><svg class="cj" role="img" aria-label="禁用" style="left:126.80px;top:180.90px;width:13.20px;height:6.60px;color:#555;" viewBox="0 -88 200 100"><text x="0" y="0">禁用</text></svg><div class="pill" style="left:150.20px;top:179.30px;width:23.80px;height:9.60px;"></div><div class="knob" style="left:143.40px;top:177.30px;width:13.60px;height:13.60px;"></div><svg class="cj" role="img" aria-label="断开" style="left:158.40px;top:180.90px;width:13.20px;height:6.60px;color:#555;" viewBox="0 -88 200 100"><text x="0" y="0">断开</text></svg><div class="num" style="left:5.9px;top:207.10px">5</div><div class="box bx2" style="left:21.60px;top:201.60px;width:40.80px;height:18.50px;"></div><div style="left:22.00px;top:207.94px;width:40.00px;height:7.92px;line-height:7.92px;font-size:6.60px;text-align:center;color:#5a5a5a;">DI5</div><div class="pw" style="left:68.50px;top:204.10px;width:13.60px;height:13.60px;"></div><svg style="left:71.30px;top:206.90px;width:8px;height:8px" viewBox="0 0 8 8" fill="none" stroke="#dedede" stroke-width=".9" stroke-linecap="butt"><path d="M2.400 2.700A2.600 2.600 0 1 0 5.600 2.700M4 1.200v2.600"/></svg><div class="pw" style="left:92.00px;top:204.10px;width:13.60px;height:13.60px;"></div><svg style="left:94.80px;top:206.90px;width:8px;height:8px" viewBox="0 0 8 8" fill="none" stroke="#25c2ee" stroke-width="1.1" stroke-linecap="butt"><path d="M2.400 2.700A2.600 2.600 0 1 0 5.600 2.700M4 1.200v2.600"/></svg><div class="pill" style="left:117.80px;top:205.00px;width:24.30px;height:9.60px;"></div><div class="knob" style="left:111.00px;top:203.00px;width:13.60px;height:13.60px;"></div><svg class="cj" role="img" aria-label="禁用" style="left:126.80px;top:206.60px;width:13.20px;height:6.60px;color:#555;" viewBox="0 -88 200 100"><text x="0" y="0">禁用</text></svg><div class="pill" style="left:150.20px;top:205.00px;width:23.80px;height:9.60px;"></div><div class="knob" style="left:143.40px;top:203.00px;width:13.60px;height:13.60px;"></div><svg class="cj" role="img" aria-label="断开" style="left:158.40px;top:206.60px;width:13.20px;height:6.60px;color:#555;" viewBox="0 -88 200 100"><text x="0" y="0">断开</text></svg><div class="num" style="left:5.9px;top:232.80px">6</div><div class="box bx2" style="left:21.60px;top:227.30px;width:40.80px;height:18.50px;"></div><div style="left:22.00px;top:233.64px;width:40.00px;height:7.92px;line-height:7.92px;font-size:6.60px;text-align:center;color:#5a5a5a;">DI6</div><div class="pw" style="left:68.50px;top:229.80px;width:13.60px;height:13.60px;"></div><svg style="left:71.30px;top:232.60px;width:8px;height:8px" viewBox="0 0 8 8" fill="none" stroke="#dedede" stroke-width=".9" stroke-linecap="butt"><path d="M2.400 2.700A2.600 2.600 0 1 0 5.600 2.700M4 1.200v2.600"/></svg><div class="pw" style="left:92.00px;top:229.80px;width:13.60px;height:13.60px;"></div><svg style="left:94.80px;top:232.60px;width:8px;height:8px" viewBox="0 0 8 8" fill="none" stroke="#25c2ee" stroke-width="1.1" stroke-linecap="butt"><path d="M2.400 2.700A2.600 2.600 0 1 0 5.600 2.700M4 1.200v2.600"/></svg><div class="pill" style="left:117.80px;top:230.70px;width:24.30px;height:9.60px;"></div><div class="knob" style="left:111.00px;top:228.70px;width:13.60px;height:13.60px;"></div><svg class="cj" role="img" aria-label="禁用" style="left:126.80px;top:232.30px;width:13.20px;height:6.60px;color:#555;" viewBox="0 -88 200 100"><text x="0" y="0">禁用</text></svg><div class="pill" style="left:150.20px;top:230.70px;width:23.80px;height:9.60px;"></div><div class="knob" style="left:143.40px;top:228.70px;width:13.60px;height:13.60px;"></div><svg class="cj" role="img" aria-label="断开" style="left:158.40px;top:232.30px;width:13.20px;height:6.60px;color:#555;" viewBox="0 -88 200 100"><text x="0" y="0">断开</text></svg><div class="num" style="left:5.9px;top:258.50px">7</div><div class="box bx2" style="left:21.60px;top:253.00px;width:40.80px;height:18.50px;"></div><div style="left:22.00px;top:259.34px;width:40.00px;height:7.92px;line-height:7.92px;font-size:6.60px;text-align:center;color:#5a5a5a;">DI7</div><div class="pw" style="left:68.50px;top:255.50px;width:13.60px;height:13.60px;"></div><svg style="left:71.30px;top:258.30px;width:8px;height:8px" viewBox="0 0 8 8" fill="none" stroke="#dedede" stroke-width=".9" stroke-linecap="butt"><path d="M2.400 2.700A2.600 2.600 0 1 0 5.600 2.700M4 1.200v2.600"/></svg><div class="pw" style="left:92.00px;top:255.50px;width:13.60px;height:13.60px;"></div><svg style="left:94.80px;top:258.30px;width:8px;height:8px" viewBox="0 0 8 8" fill="none" stroke="#25c2ee" stroke-width="1.1" stroke-linecap="butt"><path d="M2.400 2.700A2.600 2.600 0 1 0 5.600 2.700M4 1.200v2.600"/></svg><div class="pill" style="left:117.80px;top:256.40px;width:24.30px;height:9.60px;"></div><div class="knob" style="left:111.00px;top:254.40px;width:13.60px;height:13.60px;"></div><svg class="cj" role="img" aria-label="禁用" style="left:126.80px;top:258.00px;width:13.20px;height:6.60px;color:#555;" viewBox="0 -88 200 100"><text x="0" y="0">禁用</text></svg><div class="pill" style="left:150.20px;top:256.40px;width:23.80px;height:9.60px;"></div><div class="knob" style="left:143.40px;top:254.40px;width:13.60px;height:13.60px;"></div><svg class="cj" role="img" aria-label="断开" style="left:158.40px;top:258.00px;width:13.20px;height:6.60px;color:#555;" viewBox="0 -88 200 100"><text x="0" y="0">断开</text></svg><div class="num" style="left:5.9px;top:284.20px">8</div><div class="box bx2" style="left:21.60px;top:278.70px;width:40.80px;height:18.50px;"></div><div style="left:22.00px;top:285.04px;width:40.00px;height:7.92px;line-height:7.92px;font-size:6.60px;text-align:center;color:#5a5a5a;">DI8</div><div class="pw" style="left:68.50px;top:281.20px;width:13.60px;height:13.60px;"></div><svg style="left:71.30px;top:284.00px;width:8px;height:8px" viewBox="0 0 8 8" fill="none" stroke="#dedede" stroke-width=".9" stroke-linecap="butt"><path d="M2.400 2.700A2.600 2.600 0 1 0 5.600 2.700M4 1.200v2.600"/></svg><div class="pw" style="left:92.00px;top:281.20px;width:13.60px;height:13.60px;"></div><svg style="left:94.80px;top:284.00px;width:8px;height:8px" viewBox="0 0 8 8" fill="none" stroke="#25c2ee" stroke-width="1.1" stroke-linecap="butt"><path d="M2.400 2.700A2.600 2.600 0 1 0 5.600 2.700M4 1.200v2.600"/></svg><div class="pill" style="left:117.80px;top:282.10px;width:24.30px;height:9.60px;"></div><div class="knob" style="left:111.00px;top:280.10px;width:13.60px;height:13.60px;"></div><svg class="cj" role="img" aria-label="禁用" style="left:126.80px;top:283.70px;width:13.20px;height:6.60px;color:#555;" viewBox="0 -88 200 100"><text x="0" y="0">禁用</text></svg><div class="pill" style="left:150.20px;top:282.10px;width:23.80px;height:9.60px;"></div><div class="knob" style="left:143.40px;top:280.10px;width:13.60px;height:13.60px;"></div><svg class="cj" role="img" aria-label="断开" style="left:158.40px;top:283.70px;width:13.20px;height:6.60px;color:#555;" viewBox="0 -88 200 100"><text x="0" y="0">断开</text></svg><div class="btnb" style="left:0.20px;top:299.10px;width:88.70px;height:23.90px;border-radius:3px 0 0 0"></div><div class="btno" style="left:88.90px;top:299.10px;width:89.10px;height:23.90px;border-radius:0 3px 0 0"></div><svg class="cj" role="img" aria-label="取消" style="left:35.75px;top:306.95px;width:17.60px;height:8.80px;color:#fff;" viewBox="0 -88 200 100"><text x="0" y="0">取消</text></svg><svg class="cj" role="img" aria-label="保存" style="left:124.65px;top:306.95px;width:17.60px;height:8.80px;color:#fff;" viewBox="0 -88 200 100"><text x="0" y="0">保存</text></svg></div><div class="home"></div></div>
<div class="phone" style="left:184.2px;top:627.3px"><div class="btn" style="left:-.5px;top:86px;height:12px"></div><div class="btn" style="left:-.5px;top:103px;height:15px"></div><div class="btn" style="left:-.5px;top:122px;height:15px"></div><div class="btn" style="right:-.5px;top:104px;height:16px"></div><div class="rim"></div><div class="face"></div><div class="ant" style="left:0;top:32px"></div><div class="ant" style="right:0;top:32px"></div><div class="ant" style="left:0;top:375px"></div><div class="ant" style="right:0;top:375px"></div><div class="dot"></div><div class="cam"></div><div class="spk"></div><div class="screen" style="left:7.8px"><div class="sb" style="left:0.00px;top:0.00px;width:178.00px;height:11.90px;"></div><svg class="cj" role="img" aria-label="中国移动" style="left:7.30px;top:1.35px;width:14.80px;height:3.70px;color:#8e8e8e;" viewBox="0 -88 400 100"><text x="0" y="0">中国移动</text></svg><svg class="cj" role="img" aria-label="中国联通" style="left:7.30px;top:6.75px;width:14.80px;height:3.70px;color:#8e8e8e;" viewBox="0 -88 400 100"><text x="0" y="0">中国联通</text></svg><div style="left:20.60px;top:1.60px;width:3.00px;height:2.60px;border:.5px solid #999;border-radius:.5px"></div><svg style="left:24px;top:2px;width:30px;height:8px" viewBox="0 0 30 8"><text x="0.3" y="4.6" font-size="3" fill="#aaa" font-family="Liberation Sans" font-weight="bold">H</text><path d="M2.8 7.2 L9 7.2 L9 2.2 Z" fill="#6a6a6a"/><path d="M2.8 7.2 L6.6 7.2 L6.6 4.1 Z" fill="#b4b4b4"/><text x="10.4" y="4.4" font-size="2.8" fill="#aaa" font-family="Liberation Sans" font-weight="bold">4G</text><path d="M13.6 7.2 L19.9 7.2 L19.9 2.2 Z" fill="#6a6a6a"/><path d="M13.6 7.2 L17.6 7.2 L17.6 4 Z" fill="#b4b4b4"/><path d="M21.2 3.6 Q24.3 0.9 27.4 3.6 L24.3 7.3 Z" fill="#6a6a6a"/><path d="M22.9 5.4 Q24.3 4.4 25.7 5.4 L24.3 7.3 Z" fill="#b4b4b4"/></svg><svg style="left:101px;top:2.6px;width:60px;height:7px" viewBox="0 0 60 7" fill="none" stroke="#9a9a9a" stroke-width=".75"><ellipse cx="3.8" cy="3.4" rx="2.6" ry="1.9"/><circle cx="3.8" cy="3.4" r=".7" fill="#9a9a9a"/><circle cx="12.4" cy="3.7" r="2.2"/><path d="M12.4 2.4v1.4h1M10.2 1.2l1-.8M14.6 1.2l-1-.8"/><rect x="19.6" y="1" width="3.2" height="5" rx=".5" fill="#9a9a9a"/><path d="M18 2v3M24.4 2v3"/><path d="M27.2 5.8h3.8M29.1 .8v4.2M27.4 2l1.7-1.2 1.7 1.2M27.8 3.8l1.3 1 1.3-1"/><rect x="44.6" y="1.2" width="9.2" height="4.8" rx=".8"/><rect x="45.3" y="1.9" width="5" height="3.4" fill="#b0b0b0" stroke="none"/><path d="M54.6 2.6v2"/></svg><div style="left:132.4px;top:4.1px;font-size:5.5px;line-height:7px;color:#a6a6a6;letter-spacing:-.1px">62%</div><div style="left:158.2px;top:4.1px;font-size:5.5px;line-height:7px;color:#a6a6a6;letter-spacing:-.1px">13:47</div><div class="hd" style="left:0.00px;top:11.90px;width:178.00px;height:18.50px;"><b>DAMT0888</b></div><svg style="left:11px;top:17.5px;width:7px;height:10px" viewBox="0 0 7 10" fill="none" stroke="#eef7fd" stroke-width="1.05"><path d="M5.4 .8 L1.2 5 L5.4 9.2"/></svg><svg style="left:161px;top:18.4px;width:9px;height:8px" viewBox="0 0 9 8" fill="#fff"><rect x=".6" y="5.8" width="1.3" height="2"/><rect x="2.6" y="4.2" width="1.3" height="3.6"/><rect x="4.6" y="2.4" width="1.3" height="5.4"/><rect x="6.6" y=".4" width="1.4" height="7.4"/></svg><div class="tabs" style="left:0.00px;top:30.40px;width:178.00px;height:11.80px;"></div><svg class="cj" role="img" aria-label="监控" style="left:11.20px;top:33.20px;width:13.20px;height:6.60px;color:#4a4a4a;" viewBox="0 -88 200 100"><text x="0" y="0">监控</text></svg><svg class="cj" role="img" aria-label="曲线" style="left:46.80px;top:33.20px;width:13.20px;height:6.60px;color:#4a4a4a;" viewBox="0 -88 200 100"><text x="0" y="0">曲线</text></svg><svg class="cj" role="img" aria-label="报警" style="left:82.40px;top:33.20px;width:13.20px;height:6.60px;color:#4a4a4a;" viewBox="0 -88 200 100"><text x="0" y="0">报警</text></svg><svg class="cj cb" role="img" aria-label="配置" style="left:118.00px;top:33.20px;width:13.20px;height:6.60px;color:#ec1c24;" viewBox="0 -88 200 100"><text x="0" y="0">配置</text></svg><svg class="cj" role="img" aria-label="扩展" style="left:153.60px;top:33.20px;width:13.20px;height:6.60px;color:#4a4a4a;" viewBox="0 -88 200 100"><text x="0" y="0">扩展</text></svg><div style="left:0.00px;top:42.20px;width:178.00px;height:281.00px;background:#f2f2f2"></div><div style="left:0.50px;top:42.20px;width:49.50px;height:20.30px;background:#fff"></div><svg class="cj" role="img" aria-label="模拟量配置" style="left:8.07px;top:48.48px;width:34.25px;height:6.85px;color:#555;" viewBox="0 -88 500 100"><text x="0" y="0">模拟量配置</text></svg><svg class="cj" role="img" aria-label="量程换算" style="left:59.80px;top:48.48px;width:27.40px;height:6.85px;color:#3d9bd8;" viewBox="0 -88 400 100"><text x="0" y="0">量程换算</text></svg><svg class="cj" role="img" aria-label="序号" style="left:4.70px;top:67.25px;width:13.40px;height:6.70px;color:#3c3c3c;" viewBox="0 -88 200 100"><text x="0" y="0">序号</text></svg><svg class="cj" role="img" aria-label="通道名称" style="left:29.10px;top:67.25px;width:26.80px;height:6.70px;color:#3c3c3c;" viewBox="0 -88 400 100"><text x="0" y="0">通道名称</text></svg><svg class="cj" role="img" aria-label="下限报警" style="left:65.00px;top:67.25px;width:26.80px;height:6.70px;color:#3c3c3c;" viewBox="0 -88 400 100"><text x="0" y="0">下限报警</text></svg><svg class="cj" role="img" aria-label="上限报警" style="left:94.70px;top:67.25px;width:26.80px;height:6.70px;color:#3c3c3c;" viewBox="0 -88 400 100"><text x="0" y="0">上限报警</text></svg><svg class="cj" role="img" aria-label="单位" style="left:125.10px;top:67.25px;width:13.40px;height:6.70px;color:#3c3c3c;" viewBox="0 -88 200 100"><text x="0" y="0">单位</text></svg><svg class="cj" role="img" aria-label="图标" style="left:142.40px;top:67.25px;width:13.40px;height:6.70px;color:#3c3c3c;" viewBox="0 -88 200 100"><text x="0" y="0">图标</text></svg><svg class="cj" role="img" aria-label="报警" style="left:159.50px;top:67.25px;width:13.40px;height:6.70px;color:#3c3c3c;" viewBox="0 -88 200 100"><text x="0" y="0">报警</text></svg><div class="num" style="left:5.4px;top:89.10px">1</div><div class="box" style="left:21.20px;top:84.80px;width:40.70px;height:17.30px;"></div><div style="left:21.40px;top:90.20px;width:40.00px;height:7.80px;line-height:7.80px;font-size:6.50px;text-align:center;color:#5e5e5e;">AI1</div><div class="box" style="left:64.30px;top:84.80px;width:27.40px;height:17.30px;"></div><div style="left:58.00px;top:90.00px;width:40.00px;height:8.40px;line-height:8.40px;font-size:7.00px;text-align:center;color:#5e5e5e;">0</div><div class="box" style="left:93.80px;top:84.80px;width:27.90px;height:17.30px;"></div><div style="left:87.70px;top:90.00px;width:40.00px;height:8.40px;line-height:8.40px;font-size:7.00px;text-align:center;color:#5e5e5e;">0</div><div class="box" style="left:124.10px;top:84.80px;width:14.90px;height:17.30px;"></div><div style="left:111.60px;top:90.70px;width:40.00px;height:8.40px;line-height:8.40px;font-size:7.00px;text-align:center;color:#5c5c5c;">mA</div><svg style="left:145.45px;top:86.00px;width:8.3px;height:14.5px" viewBox="0 0 8 14" fill="#fff" stroke="#3a3a3a" stroke-width=".9"><path d="M2.700 7.600V2.200a1.300 1.300 0 0 1 2.600 0v5.400a2.900 2.900 0 1 1-2.600 0z"/><path d="M4 5v4" stroke-width=".6" stroke="#888"/></svg><svg style="left:160.40px;top:87.50px;width:13px;height:13.200px" viewBox="0 0 13 13.200"><path d="M.2 11.400V4.200Q.2 .3 4 .3h5Q12.800 .3 12.800 4.200v7.200z" fill="#ee2a14"/><path d="M3.200 .6h2.600l-.8 10.600h-2.400z" fill="#ff6a3a" opacity=".75"/><path d="M9.800 .8Q12.400 1.400 12.500 4.400v6.800h-2z" fill="#c81808" opacity=".6"/><rect x=".4" y="10.900" width="12.200" height="2.200" fill="#2b1512"/></svg><div class="num" style="left:5.4px;top:114.50px">2</div><div class="box" style="left:21.20px;top:110.20px;width:40.70px;height:17.30px;"></div><div style="left:21.40px;top:115.60px;width:40.00px;height:7.80px;line-height:7.80px;font-size:6.50px;text-align:center;color:#5e5e5e;">AI2</div><div class="box" style="left:64.30px;top:110.20px;width:27.40px;height:17.30px;"></div><div style="left:58.00px;top:115.40px;width:40.00px;height:8.40px;line-height:8.40px;font-size:7.00px;text-align:center;color:#5e5e5e;">0</div><div class="box" style="left:93.80px;top:110.20px;width:27.90px;height:17.30px;"></div><div style="left:87.70px;top:115.40px;width:40.00px;height:8.40px;line-height:8.40px;font-size:7.00px;text-align:center;color:#5e5e5e;">0</div><div class="box" style="left:124.10px;top:110.20px;width:14.90px;height:17.30px;"></div><div style="left:111.60px;top:116.10px;width:40.00px;height:8.40px;line-height:8.40px;font-size:7.00px;text-align:center;color:#5c5c5c;">mA</div><svg style="left:145.45px;top:111.40px;width:8.3px;height:14.5px" viewBox="0 0 8 14" fill="#fff" stroke="#3a3a3a" stroke-width=".9"><path d="M2.700 7.600V2.200a1.300 1.300 0 0 1 2.600 0v5.400a2.900 2.900 0 1 1-2.600 0z"/><path d="M4 5v4" stroke-width=".6" stroke="#888"/></svg><svg style="left:160.40px;top:112.90px;width:13px;height:13.200px" viewBox="0 0 13 13.200"><path d="M.2 11.400V4.200Q.2 .3 4 .3h5Q12.800 .3 12.800 4.200v7.200z" fill="#ee2a14"/><path d="M3.200 .6h2.600l-.8 10.600h-2.400z" fill="#ff6a3a" opacity=".75"/><path d="M9.800 .8Q12.400 1.400 12.500 4.400v6.800h-2z" fill="#c81808" opacity=".6"/><rect x=".4" y="10.900" width="12.200" height="2.200" fill="#2b1512"/></svg><div class="num" style="left:5.4px;top:139.90px">3</div><div class="box" style="left:21.20px;top:135.60px;width:40.70px;height:17.30px;"></div><div style="left:21.40px;top:141.00px;width:40.00px;height:7.80px;line-height:7.80px;font-size:6.50px;text-align:center;color:#5e5e5e;">AI3</div><div class="box" style="left:64.30px;top:135.60px;width:27.40px;height:17.30px;"></div><div style="left:58.00px;top:140.80px;width:40.00px;height:8.40px;line-height:8.40px;font-size:7.00px;text-align:center;color:#5e5e5e;">0</div><div class="box" style="left:93.80px;top:135.60px;width:27.90px;height:17.30px;"></div><div style="left:87.70px;top:140.80px;width:40.00px;height:8.40px;line-height:8.40px;font-size:7.00px;text-align:center;color:#5e5e5e;">0</div><div class="box" style="left:124.10px;top:135.60px;width:14.90px;height:17.30px;"></div><div style="left:111.60px;top:141.50px;width:40.00px;height:8.40px;line-height:8.40px;font-size:7.00px;text-align:center;color:#5c5c5c;">mA</div><svg style="left:145.45px;top:136.80px;width:8.3px;height:14.5px" viewBox="0 0 8 14" fill="#fff" stroke="#3a3a3a" stroke-width=".9"><path d="M2.700 7.600V2.200a1.300 1.300 0 0 1 2.600 0v5.400a2.900 2.900 0 1 1-2.600 0z"/><path d="M4 5v4" stroke-width=".6" stroke="#888"/></svg><svg style="left:160.40px;top:138.30px;width:13px;height:13.200px" viewBox="0 0 13 13.200"><path d="M.2 11.400V4.200Q.2 .3 4 .3h5Q12.800 .3 12.800 4.200v7.200z" fill="#ee2a14"/><path d="M3.200 .6h2.600l-.8 10.600h-2.400z" fill="#ff6a3a" opacity=".75"/><path d="M9.800 .8Q12.400 1.400 12.500 4.400v6.800h-2z" fill="#c81808" opacity=".6"/><rect x=".4" y="10.900" width="12.200" height="2.200" fill="#2b1512"/></svg><div class="num" style="left:5.4px;top:165.30px">4</div><div class="box" style="left:21.20px;top:161.00px;width:40.70px;height:17.30px;"></div><div style="left:21.40px;top:166.40px;width:40.00px;height:7.80px;line-height:7.80px;font-size:6.50px;text-align:center;color:#5e5e5e;">AI4</div><div class="box" style="left:64.30px;top:161.00px;width:27.40px;height:17.30px;"></div><div style="left:58.00px;top:166.20px;width:40.00px;height:8.40px;line-height:8.40px;font-size:7.00px;text-align:center;color:#5e5e5e;">0</div><div class="box" style="left:93.80px;top:161.00px;width:27.90px;height:17.30px;"></div><div style="left:87.70px;top:166.20px;width:40.00px;height:8.40px;line-height:8.40px;font-size:7.00px;text-align:center;color:#5e5e5e;">0</div><div class="box" style="left:124.10px;top:161.00px;width:14.90px;height:17.30px;"></div><div style="left:111.60px;top:166.90px;width:40.00px;height:8.40px;line-height:8.40px;font-size:7.00px;text-align:center;color:#5c5c5c;">mA</div><svg style="left:145.45px;top:162.20px;width:8.3px;height:14.5px" viewBox="0 0 8 14" fill="#fff" stroke="#3a3a3a" stroke-width=".9"><path d="M2.700 7.600V2.200a1.300 1.300 0 0 1 2.600 0v5.400a2.900 2.900 0 1 1-2.600 0z"/><path d="M4 5v4" stroke-width=".6" stroke="#888"/></svg><svg style="left:160.40px;top:163.70px;width:13px;height:13.200px" viewBox="0 0 13 13.200"><path d="M.2 11.400V4.200Q.2 .3 4 .3h5Q12.800 .3 12.800 4.200v7.200z" fill="#ee2a14"/><path d="M3.200 .6h2.600l-.8 10.600h-2.400z" fill="#ff6a3a" opacity=".75"/><path d="M9.800 .8Q12.400 1.400 12.500 4.400v6.800h-2z" fill="#c81808" opacity=".6"/><rect x=".4" y="10.900" width="12.200" height="2.200" fill="#2b1512"/></svg><div class="num" style="left:5.4px;top:190.70px">5</div><div class="box" style="left:21.20px;top:186.40px;width:40.70px;height:17.30px;"></div><div style="left:21.40px;top:191.80px;width:40.00px;height:7.80px;line-height:7.80px;font-size:6.50px;text-align:center;color:#5e5e5e;">AI5</div><div class="box" style="left:64.30px;top:186.40px;width:27.40px;height:17.30px;"></div><div style="left:58.00px;top:191.60px;width:40.00px;height:8.40px;line-height:8.40px;font-size:7.00px;text-align:center;color:#5e5e5e;">0</div><div class="box" style="left:93.80px;top:186.40px;width:27.90px;height:17.30px;"></div><div style="left:87.70px;top:191.60px;width:40.00px;height:8.40px;line-height:8.40px;font-size:7.00px;text-align:center;color:#5e5e5e;">0</div><div class="box" style="left:124.10px;top:186.40px;width:14.90px;height:17.30px;"></div><div style="left:111.60px;top:192.30px;width:40.00px;height:8.40px;line-height:8.40px;font-size:7.00px;text-align:center;color:#5c5c5c;">mA</div><svg style="left:145.45px;top:187.60px;width:8.3px;height:14.5px" viewBox="0 0 8 14" fill="#fff" stroke="#3a3a3a" stroke-width=".9"><path d="M2.700 7.600V2.200a1.300 1.300 0 0 1 2.600 0v5.400a2.900 2.900 0 1 1-2.600 0z"/><path d="M4 5v4" stroke-width=".6" stroke="#888"/></svg><svg style="left:160.40px;top:189.10px;width:13px;height:13.200px" viewBox="0 0 13 13.200"><path d="M.2 11.400V4.200Q.2 .3 4 .3h5Q12.800 .3 12.800 4.200v7.200z" fill="#ee2a14"/><path d="M3.200 .6h2.600l-.8 10.600h-2.400z" fill="#ff6a3a" opacity=".75"/><path d="M9.800 .8Q12.400 1.400 12.500 4.400v6.800h-2z" fill="#c81808" opacity=".6"/><rect x=".4" y="10.900" width="12.200" height="2.200" fill="#2b1512"/></svg><div class="num" style="left:5.4px;top:216.10px">6</div><div class="box" style="left:21.20px;top:211.80px;width:40.70px;height:17.30px;"></div><div style="left:21.40px;top:217.20px;width:40.00px;height:7.80px;line-height:7.80px;font-size:6.50px;text-align:center;color:#5e5e5e;">AI6</div><div class="box" style="left:64.30px;top:211.80px;width:27.40px;height:17.30px;"></div><div style="left:58.00px;top:217.00px;width:40.00px;height:8.40px;line-height:8.40px;font-size:7.00px;text-align:center;color:#5e5e5e;">0</div><div class="box" style="left:93.80px;top:211.80px;width:27.90px;height:17.30px;"></div><div style="left:87.70px;top:217.00px;width:40.00px;height:8.40px;line-height:8.40px;font-size:7.00px;text-align:center;color:#5e5e5e;">0</div><div class="box" style="left:124.10px;top:211.80px;width:14.90px;height:17.30px;"></div><div style="left:111.60px;top:217.70px;width:40.00px;height:8.40px;line-height:8.40px;font-size:7.00px;text-align:center;color:#5c5c5c;">mA</div><svg style="left:145.45px;top:213.00px;width:8.3px;height:14.5px" viewBox="0 0 8 14" fill="#fff" stroke="#3a3a3a" stroke-width=".9"><path d="M2.700 7.600V2.200a1.300 1.300 0 0 1 2.600 0v5.400a2.900 2.900 0 1 1-2.600 0z"/><path d="M4 5v4" stroke-width=".6" stroke="#888"/></svg><svg style="left:160.40px;top:214.50px;width:13px;height:13.200px" viewBox="0 0 13 13.200"><path d="M.2 11.400V4.200Q.2 .3 4 .3h5Q12.800 .3 12.800 4.200v7.200z" fill="#ee2a14"/><path d="M3.200 .6h2.600l-.8 10.600h-2.400z" fill="#ff6a3a" opacity=".75"/><path d="M9.800 .8Q12.400 1.400 12.500 4.400v6.800h-2z" fill="#c81808" opacity=".6"/><rect x=".4" y="10.900" width="12.200" height="2.200" fill="#2b1512"/></svg><div class="num" style="left:5.4px;top:241.50px">7</div><div class="box" style="left:21.20px;top:237.20px;width:40.70px;height:17.30px;"></div><div style="left:21.40px;top:242.60px;width:40.00px;height:7.80px;line-height:7.80px;font-size:6.50px;text-align:center;color:#5e5e5e;">AI7</div><div class="box" style="left:64.30px;top:237.20px;width:27.40px;height:17.30px;"></div><div style="left:58.00px;top:242.40px;width:40.00px;height:8.40px;line-height:8.40px;font-size:7.00px;text-align:center;color:#5e5e5e;">0</div><div class="box" style="left:93.80px;top:237.20px;width:27.90px;height:17.30px;"></div><div style="left:87.70px;top:242.40px;width:40.00px;height:8.40px;line-height:8.40px;font-size:7.00px;text-align:center;color:#5e5e5e;">0</div><div class="box" style="left:124.10px;top:237.20px;width:14.90px;height:17.30px;"></div><div style="left:111.60px;top:243.10px;width:40.00px;height:8.40px;line-height:8.40px;font-size:7.00px;text-align:center;color:#5c5c5c;">mA</div><svg style="left:145.45px;top:238.40px;width:8.3px;height:14.5px" viewBox="0 0 8 14" fill="#fff" stroke="#3a3a3a" stroke-width=".9"><path d="M2.700 7.600V2.200a1.300 1.300 0 0 1 2.600 0v5.400a2.900 2.900 0 1 1-2.600 0z"/><path d="M4 5v4" stroke-width=".6" stroke="#888"/></svg><svg style="left:160.40px;top:239.90px;width:13px;height:13.200px" viewBox="0 0 13 13.200"><path d="M.2 11.400V4.200Q.2 .3 4 .3h5Q12.800 .3 12.800 4.200v7.200z" fill="#ee2a14"/><path d="M3.200 .6h2.600l-.8 10.600h-2.400z" fill="#ff6a3a" opacity=".75"/><path d="M9.800 .8Q12.400 1.400 12.500 4.400v6.800h-2z" fill="#c81808" opacity=".6"/><rect x=".4" y="10.900" width="12.200" height="2.200" fill="#2b1512"/></svg><div class="num" style="left:5.4px;top:266.90px">8</div><div class="box" style="left:21.20px;top:262.60px;width:40.70px;height:17.30px;"></div><div style="left:21.40px;top:268.00px;width:40.00px;height:7.80px;line-height:7.80px;font-size:6.50px;text-align:center;color:#5e5e5e;">AI8</div><div class="box" style="left:64.30px;top:262.60px;width:27.40px;height:17.30px;"></div><div style="left:58.00px;top:267.80px;width:40.00px;height:8.40px;line-height:8.40px;font-size:7.00px;text-align:center;color:#5e5e5e;">0</div><div class="box" style="left:93.80px;top:262.60px;width:27.90px;height:17.30px;"></div><div style="left:87.70px;top:267.80px;width:40.00px;height:8.40px;line-height:8.40px;font-size:7.00px;text-align:center;color:#5e5e5e;">0</div><div class="box" style="left:124.10px;top:262.60px;width:14.90px;height:17.30px;"></div><div style="left:111.60px;top:268.50px;width:40.00px;height:8.40px;line-height:8.40px;font-size:7.00px;text-align:center;color:#5c5c5c;">mA</div><svg style="left:145.45px;top:263.80px;width:8.3px;height:14.5px" viewBox="0 0 8 14" fill="#fff" stroke="#3a3a3a" stroke-width=".9"><path d="M2.700 7.600V2.200a1.300 1.300 0 0 1 2.600 0v5.400a2.900 2.900 0 1 1-2.600 0z"/><path d="M4 5v4" stroke-width=".6" stroke="#888"/></svg><svg style="left:160.40px;top:265.30px;width:13px;height:13.200px" viewBox="0 0 13 13.200"><path d="M.2 11.400V4.200Q.2 .3 4 .3h5Q12.800 .3 12.800 4.200v7.200z" fill="#ee2a14"/><path d="M3.200 .6h2.600l-.8 10.600h-2.400z" fill="#ff6a3a" opacity=".75"/><path d="M9.800 .8Q12.400 1.400 12.500 4.400v6.800h-2z" fill="#c81808" opacity=".6"/><rect x=".4" y="10.900" width="12.200" height="2.200" fill="#2b1512"/></svg><svg class="cj" role="img" aria-label="描述：可配置通道的名称、报警上下限和单位图标类型" style="left:6.80px;top:291.60px;width:172.80px;height:7.20px;color:#333;" viewBox="0 -88 2400 100"><text x="0" y="0">描述：可配置通道的名称、报警上下限和单位图标类型</text></svg><div class="btnb" style="left:0.30px;top:294.00px;width:88.50px;height:23.60px;border-radius:3px 0 0 3px"></div><div class="btno" style="left:88.80px;top:294.00px;width:89.00px;height:23.60px;border-radius:0 3px 3px 0"></div><svg class="cj" role="img" aria-label="取消" style="left:35.75px;top:301.70px;width:17.60px;height:8.80px;color:#fff;" viewBox="0 -88 200 100"><text x="0" y="0">取消</text></svg><svg class="cj" role="img" aria-label="保存" style="left:124.50px;top:301.70px;width:17.60px;height:8.80px;color:#fff;" viewBox="0 -88 200 100"><text x="0" y="0">保存</text></svg></div><div class="home"></div></div>
<div class="phone" style="left:410.7px;top:627.3px"><div class="btn" style="left:-.5px;top:86px;height:12px"></div><div class="btn" style="left:-.5px;top:103px;height:15px"></div><div class="btn" style="left:-.5px;top:122px;height:15px"></div><div class="btn" style="right:-.5px;top:104px;height:16px"></div><div class="rim"></div><div class="face"></div><div class="ant" style="left:0;top:32px"></div><div class="ant" style="right:0;top:32px"></div><div class="ant" style="left:0;top:375px"></div><div class="ant" style="right:0;top:375px"></div><div class="dot"></div><div class="cam"></div><div class="spk"></div><div class="screen" style="left:9.2px"><div class="sb" style="left:0.00px;top:0.00px;width:178.00px;height:11.90px;"></div><svg class="cj" role="img" aria-label="中国移动" style="left:7.30px;top:1.35px;width:14.80px;height:3.70px;color:#8e8e8e;" viewBox="0 -88 400 100"><text x="0" y="0">中国移动</text></svg><svg class="cj" role="img" aria-label="中国联通" style="left:7.30px;top:6.75px;width:14.80px;height:3.70px;color:#8e8e8e;" viewBox="0 -88 400 100"><text x="0" y="0">中国联通</text></svg><div style="left:20.60px;top:1.60px;width:3.00px;height:2.60px;border:.5px solid #999;border-radius:.5px"></div><svg style="left:24px;top:2px;width:30px;height:8px" viewBox="0 0 30 8"><text x="0.3" y="4.6" font-size="3" fill="#aaa" font-family="Liberation Sans" font-weight="bold">H</text><path d="M2.8 7.2 L9 7.2 L9 2.2 Z" fill="#6a6a6a"/><path d="M2.8 7.2 L6.6 7.2 L6.6 4.1 Z" fill="#b4b4b4"/><text x="10.4" y="4.4" font-size="2.8" fill="#aaa" font-family="Liberation Sans" font-weight="bold">4G</text><path d="M13.6 7.2 L19.9 7.2 L19.9 2.2 Z" fill="#6a6a6a"/><path d="M13.6 7.2 L17.6 7.2 L17.6 4 Z" fill="#b4b4b4"/><path d="M21.2 3.6 Q24.3 0.9 27.4 3.6 L24.3 7.3 Z" fill="#6a6a6a"/><path d="M22.9 5.4 Q24.3 4.4 25.7 5.4 L24.3 7.3 Z" fill="#b4b4b4"/></svg><svg style="left:101px;top:2.6px;width:60px;height:7px" viewBox="0 0 60 7" fill="none" stroke="#9a9a9a" stroke-width=".75"><ellipse cx="3.8" cy="3.4" rx="2.6" ry="1.9"/><circle cx="3.8" cy="3.4" r=".7" fill="#9a9a9a"/><circle cx="12.4" cy="3.7" r="2.2"/><path d="M12.4 2.4v1.4h1M10.2 1.2l1-.8M14.6 1.2l-1-.8"/><rect x="19.6" y="1" width="3.2" height="5" rx=".5" fill="#9a9a9a"/><path d="M18 2v3M24.4 2v3"/><path d="M27.2 5.8h3.8M29.1 .8v4.2M27.4 2l1.7-1.2 1.7 1.2M27.8 3.8l1.3 1 1.3-1"/><rect x="44.6" y="1.2" width="9.2" height="4.8" rx=".8"/><rect x="45.3" y="1.9" width="5" height="3.4" fill="#b0b0b0" stroke="none"/><path d="M54.6 2.6v2"/></svg><div style="left:132.4px;top:4.1px;font-size:5.5px;line-height:7px;color:#a6a6a6;letter-spacing:-.1px">62%</div><div style="left:158.2px;top:4.1px;font-size:5.5px;line-height:7px;color:#a6a6a6;letter-spacing:-.1px">13:47</div><div class="hd" style="left:0.00px;top:11.90px;width:178.00px;height:18.50px;"><b>DAMT0888</b></div><svg style="left:11px;top:17.5px;width:7px;height:10px" viewBox="0 0 7 10" fill="none" stroke="#eef7fd" stroke-width="1.05"><path d="M5.4 .8 L1.2 5 L5.4 9.2"/></svg><svg style="left:161px;top:18.4px;width:9px;height:8px" viewBox="0 0 9 8" fill="#fff"><rect x=".6" y="5.8" width="1.3" height="2"/><rect x="2.6" y="4.2" width="1.3" height="3.6"/><rect x="4.6" y="2.4" width="1.3" height="5.4"/><rect x="6.6" y=".4" width="1.4" height="7.4"/></svg><div class="tabs" style="left:0.00px;top:30.40px;width:178.00px;height:11.80px;"></div><svg class="cj" role="img" aria-label="监控" style="left:11.20px;top:33.20px;width:13.20px;height:6.60px;color:#4a4a4a;" viewBox="0 -88 200 100"><text x="0" y="0">监控</text></svg><svg class="cj" role="img" aria-label="曲线" style="left:46.80px;top:33.20px;width:13.20px;height:6.60px;color:#4a4a4a;" viewBox="0 -88 200 100"><text x="0" y="0">曲线</text></svg><svg class="cj" role="img" aria-label="报警" style="left:82.40px;top:33.20px;width:13.20px;height:6.60px;color:#4a4a4a;" viewBox="0 -88 200 100"><text x="0" y="0">报警</text></svg><svg class="cj cb" role="img" aria-label="配置" style="left:118.00px;top:33.20px;width:13.20px;height:6.60px;color:#ec1c24;" viewBox="0 -88 200 100"><text x="0" y="0">配置</text></svg><svg class="cj" role="img" aria-label="扩展" style="left:153.60px;top:33.20px;width:13.20px;height:6.60px;color:#4a4a4a;" viewBox="0 -88 200 100"><text x="0" y="0">扩展</text></svg><div style="left:0.00px;top:42.20px;width:178.00px;height:281.00px;background:#f2f2f2"></div><div style="left:52.10px;top:42.40px;width:41.50px;height:20.80px;background:#fff"></div><svg class="cj" role="img" aria-label="模拟量配置" style="left:7.88px;top:48.98px;width:34.25px;height:6.85px;color:#3d9bd8;" viewBox="0 -88 500 100"><text x="0" y="0">模拟量配置</text></svg><svg class="cj" role="img" aria-label="量程换算" style="left:59.10px;top:48.98px;width:27.40px;height:6.85px;color:#555;" viewBox="0 -88 400 100"><text x="0" y="0">量程换算</text></svg><div style="left:0.90px;top:66.50px;width:8.20px;height:8.20px;border-radius:50%;background:#2a93e6"></div><div style="left:11.4px;top:68.2px;font-size:7.1px;line-height:8.4px;color:#646464;letter-spacing:-.1px">4-20mA</div><div style="left:42.70px;top:66.50px;width:8.20px;height:8.20px;border-radius:50%;background:#fcfcfc;border:.6px solid #e6e6e6"></div><div style="left:52.9px;top:68.2px;font-size:7.1px;line-height:8.4px;color:#646464;letter-spacing:-.1px">0-10V</div><div style="left:77.20px;top:66.50px;width:8.20px;height:8.20px;border-radius:50%;background:#fcfcfc;border:.6px solid #e6e6e6"></div><svg class="cj" role="img" aria-label="线性变换" style="left:88.80px;top:67.27px;width:26.60px;height:6.65px;color:#6a6a6a;" viewBox="0 -88 400 100"><text x="0" y="0">线性变换</text></svg><svg class="cj cb" role="img" aria-label="序号" style="left:4.90px;top:82.40px;width:13.60px;height:6.80px;color:#333;" viewBox="0 -88 200 100"><text x="0" y="0">序号</text></svg><svg class="cj cb" role="img" aria-label="4mA对应数值" style="left:37.94px;top:82.40px;width:42.13px;height:6.80px;color:#333;" viewBox="0 -88 619.5 100"><text x="0" y="0" textLength="619.5">4mA对应数值</text></svg><svg class="cj cb" role="img" aria-label="20mA对应数值" style="left:111.73px;top:82.40px;width:46.14px;height:6.80px;color:#333;" viewBox="0 -88 678.5 100"><text x="0" y="0" textLength="678.5">20mA对应数值</text></svg><div class="num" style="left:5.7px;top:105.40px">1</div><div class="box" style="left:21.50px;top:100.40px;width:73.40px;height:18.60px;"></div><div style="left:38.40px;top:106.34px;width:40.00px;height:8.52px;line-height:8.52px;font-size:7.10px;text-align:center;color:#5e5e5e;">-40</div><div class="box" style="left:97.50px;top:100.40px;width:74.60px;height:18.60px;"></div><div style="left:114.80px;top:106.34px;width:40.00px;height:8.52px;line-height:8.52px;font-size:7.10px;text-align:center;color:#5e5e5e;">120</div><div class="num" style="left:5.7px;top:131.30px">2</div><div class="box" style="left:21.50px;top:126.30px;width:73.40px;height:18.60px;"></div><div style="left:38.40px;top:132.24px;width:40.00px;height:8.52px;line-height:8.52px;font-size:7.10px;text-align:center;color:#5e5e5e;">0</div><div class="box" style="left:97.50px;top:126.30px;width:74.60px;height:18.60px;"></div><div style="left:114.80px;top:132.24px;width:40.00px;height:8.52px;line-height:8.52px;font-size:7.10px;text-align:center;color:#5e5e5e;">0</div><div class="num" style="left:5.7px;top:157.20px">3</div><div class="box" style="left:21.50px;top:152.20px;width:73.40px;height:18.60px;"></div><div style="left:38.40px;top:158.14px;width:40.00px;height:8.52px;line-height:8.52px;font-size:7.10px;text-align:center;color:#5e5e5e;">0</div><div class="box" style="left:97.50px;top:152.20px;width:74.60px;height:18.60px;"></div><div style="left:114.80px;top:158.14px;width:40.00px;height:8.52px;line-height:8.52px;font-size:7.10px;text-align:center;color:#5e5e5e;">0</div><div class="num" style="left:5.7px;top:183.10px">4</div><div class="box" style="left:21.50px;top:178.10px;width:73.40px;height:18.60px;"></div><div style="left:38.40px;top:184.04px;width:40.00px;height:8.52px;line-height:8.52px;font-size:7.10px;text-align:center;color:#5e5e5e;">0</div><div class="box" style="left:97.50px;top:178.10px;width:74.60px;height:18.60px;"></div><div style="left:114.80px;top:184.04px;width:40.00px;height:8.52px;line-height:8.52px;font-size:7.10px;text-align:center;color:#5e5e5e;">0</div><div class="num" style="left:5.7px;top:209.00px">5</div><div class="box" style="left:21.50px;top:204.00px;width:73.40px;height:18.60px;"></div><div style="left:38.40px;top:209.94px;width:40.00px;height:8.52px;line-height:8.52px;font-size:7.10px;text-align:center;color:#5e5e5e;">0</div><div class="box" style="left:97.50px;top:204.00px;width:74.60px;height:18.60px;"></div><div style="left:114.80px;top:209.94px;width:40.00px;height:8.52px;line-height:8.52px;font-size:7.10px;text-align:center;color:#5e5e5e;">0</div><div class="num" style="left:5.7px;top:234.90px">6</div><div class="box" style="left:21.50px;top:229.90px;width:73.40px;height:18.60px;"></div><div style="left:38.40px;top:235.84px;width:40.00px;height:8.52px;line-height:8.52px;font-size:7.10px;text-align:center;color:#5e5e5e;">0</div><div class="box" style="left:97.50px;top:229.90px;width:74.60px;height:18.60px;"></div><div style="left:114.80px;top:235.84px;width:40.00px;height:8.52px;line-height:8.52px;font-size:7.10px;text-align:center;color:#5e5e5e;">0</div><div class="num" style="left:5.7px;top:260.80px">7</div><div class="box" style="left:21.50px;top:255.80px;width:73.40px;height:18.60px;"></div><div style="left:38.40px;top:261.74px;width:40.00px;height:8.52px;line-height:8.52px;font-size:7.10px;text-align:center;color:#5e5e5e;">0</div><div class="box" style="left:97.50px;top:255.80px;width:74.60px;height:18.60px;"></div><div style="left:114.80px;top:261.74px;width:40.00px;height:8.52px;line-height:8.52px;font-size:7.10px;text-align:center;color:#5e5e5e;">0</div><div class="num" style="left:5.7px;top:286.70px">8</div><div class="box" style="left:21.50px;top:281.70px;width:73.40px;height:18.60px;"></div><div style="left:38.40px;top:287.64px;width:40.00px;height:8.52px;line-height:8.52px;font-size:7.10px;text-align:center;color:#5e5e5e;">0</div><div class="box" style="left:97.50px;top:281.70px;width:74.60px;height:18.60px;"></div><div style="left:114.80px;top:287.64px;width:40.00px;height:8.52px;line-height:8.52px;font-size:7.10px;text-align:center;color:#5e5e5e;">0</div><div class="btnb" style="left:0.30px;top:300.50px;width:88.50px;height:23.70px;border-radius:3px 0 0 0"></div><div class="btno" style="left:88.80px;top:300.50px;width:88.40px;height:23.70px;border-radius:0 3px 0 0"></div><svg class="cj" role="img" aria-label="取消" style="left:35.75px;top:308.25px;width:17.60px;height:8.80px;color:#fff;" viewBox="0 -88 200 100"><text x="0" y="0">取消</text></svg><svg class="cj" role="img" aria-label="保存" style="left:124.20px;top:308.25px;width:17.60px;height:8.80px;color:#fff;" viewBox="0 -88 200 100"><text x="0" y="0">保存</text></svg></div><div class="home"></div></div>
<div class="ln" style="left:169.0px;top:186.9px;width:104.7px;height:2.4px"></div>
<div class="ln" style="left:462.3px;top:191.6px;width:147.4px;height:2.4px"></div>
<div class="ln" style="left:496.3px;top:292.7px;width:117.4px;height:2.4px"></div>
<div class="ln" style="left:147.9px;top:763.5px;width:92.4px;height:2.4px"></div>
<div class="ln" style="left:332.8px;top:832.5px;width:2.4px;height:95.7px"></div>
<div class="ln" style="left:163.3px;top:925.8px;width:171.9px;height:2.4px"></div>
<div class="ln" style="left:516.1px;top:783.3px;width:111.7px;height:2.4px"></div>
<div class="halo" style="left:263.1px;top:177.5px"><i></i></div>
<div class="halo" style="left:451.7px;top:181.9px"><i></i></div>
<div class="halo" style="left:485.7px;top:283.4px"><i></i></div>
<div class="halo" style="left:229.8px;top:753.6px"><i></i></div>
<div class="halo" style="left:323.8px;top:821.9px"><i></i></div>
<div class="halo" style="left:505.5px;top:773.4px"><i></i></div>
</div>
</body></html>
